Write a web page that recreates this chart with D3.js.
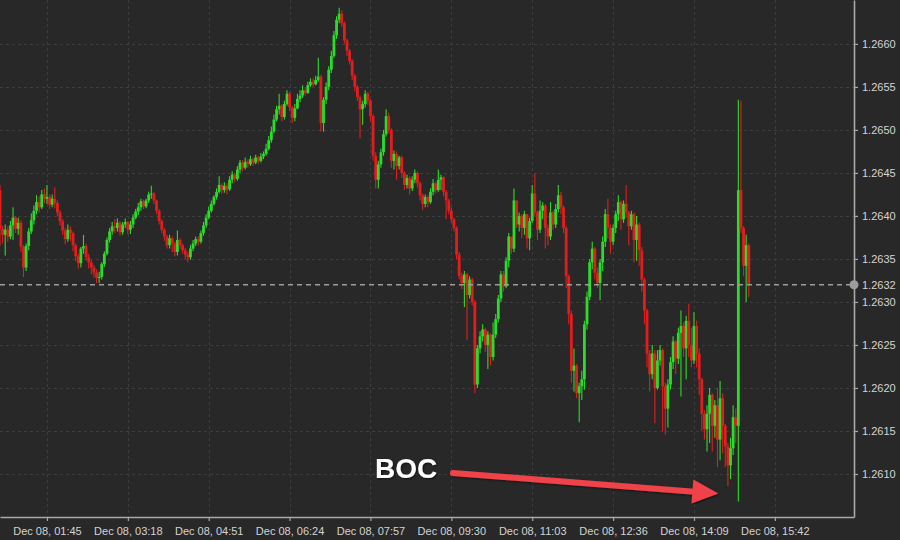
<!DOCTYPE html>
<html>
<head>
<meta charset="utf-8">
<script src="https://cdn.jsdelivr.net/npm/d3@7"></script>
<style>
  html, body { margin: 0; padding: 0; background: #282828; }
  svg { display: block; }
</style>
</head>
<body>
<svg id="chart" width="900" height="540"></svg>
<script>
// USD/CAD 3-minute candles, Dec 08 (UTC)
const firstOpen = 1.26430;
const startTime = Date.UTC(2017, 11, 8, 0, 51);
const stepMinutes = 3;

const close = [
  1.26385,1.26378,1.26384,1.26376,1.26389,1.26398,1.26385,1.26392,1.26364,1.26340,
  1.26365,1.26382,1.26395,1.26406,1.26416,1.26410,1.26425,1.26420,1.26422,1.26413,
  1.26420,1.26415,1.26404,1.26394,1.26383,1.26373,1.26384,1.26380,1.26366,1.26353,
  1.26345,1.26362,1.26365,1.26352,1.26346,1.26340,1.26334,1.26328,1.26329,1.26344,
  1.26356,1.26372,1.26382,1.26388,1.26386,1.26392,1.26381,1.26390,1.26393,1.26384,
  1.26390,1.26398,1.26405,1.26410,1.26417,1.26411,1.26418,1.26425,1.26426,1.26418,
  1.26406,1.26394,1.26384,1.26376,1.26366,1.26374,1.26368,1.26358,1.26372,1.26366,
  1.26360,1.26355,1.26352,1.26362,1.26368,1.26373,1.26370,1.26380,1.26389,1.26398,
  1.26406,1.26414,1.26422,1.26428,1.26436,1.26430,1.26435,1.26431,1.26442,1.26448,
  1.26443,1.26454,1.26462,1.26456,1.26463,1.26460,1.26466,1.26462,1.26468,1.26464,
  1.26469,1.26472,1.26478,1.26488,1.26498,1.26512,1.26524,1.26528,1.26515,1.26530,
  1.26542,1.26526,1.26514,1.26525,1.26536,1.26540,1.26546,1.26543,1.26552,1.26556,
  1.26553,1.26558,1.26562,1.26508,1.26535,1.26550,1.26570,1.26586,1.26610,1.26628,
  1.26635,1.26624,1.26604,1.26592,1.26580,1.26563,1.26550,1.26538,1.26524,1.26530,
  1.26542,1.26534,1.26516,1.26470,1.26442,1.26460,1.26474,1.26495,1.26516,1.26500,
  1.26464,1.26472,1.26458,1.26468,1.26450,1.26436,1.26444,1.26432,1.26442,1.26450,
  1.26438,1.26424,1.26414,1.26422,1.26416,1.26428,1.26438,1.26430,1.26442,1.26445,
  1.26428,1.26418,1.26406,1.26396,1.26386,1.26355,1.26330,1.26322,1.26332,1.26308,
  1.26326,1.26300,1.26204,1.26246,1.26260,1.26268,1.26250,1.26262,1.26236,1.26262,
  1.26280,1.26304,1.26332,1.26318,1.26348,1.26376,1.26362,1.26418,1.26390,1.26400,
  1.26386,1.26402,1.26374,1.26394,1.26426,1.26404,1.26384,1.26406,1.26412,1.26386,
  1.26376,1.26404,1.26390,1.26408,1.26424,1.26410,1.26386,1.26330,1.26286,1.26220,
  1.26226,1.26194,1.26202,1.26210,1.26274,1.26306,1.26346,1.26362,1.26334,1.26322,
  1.26346,1.26370,1.26402,1.26386,1.26370,1.26386,1.26402,1.26416,1.26396,1.26414,
  1.26404,1.26388,1.26402,1.26372,1.26390,1.26360,1.26326,1.26290,1.26240,1.26216,
  1.26240,1.26200,1.26232,1.26244,1.26202,1.26176,1.26204,1.26230,1.26254,1.26234,
  1.26264,1.26272,1.26246,1.26278,1.26250,1.26232,1.26272,1.26240,1.26210,1.26170,
  1.26152,1.26170,1.26192,1.26156,1.26180,1.26140,1.26188,1.26156,1.26132,1.26110,
  1.26130,1.26166,1.26156,1.26430,1.26386,1.26342,1.26366,1.26320
];

const high = [
  1.26436,1.26389,1.26390,1.26388,1.26394,1.26410,1.26400,1.26398,1.26395,1.26366,
  1.26368,1.26386,1.26403,1.26412,1.26424,1.26423,1.26430,1.26432,1.26436,1.26425,
  1.26425,1.26433,1.26418,1.26407,1.26396,1.26386,1.26390,1.26388,1.26382,1.26368,
  1.26356,1.26364,1.26378,1.26368,1.26356,1.26349,1.26343,1.26338,1.26335,1.26346,
  1.26359,1.26375,1.26386,1.26393,1.26396,1.26397,1.26394,1.26393,1.26397,1.26394,
  1.26394,1.26402,1.26408,1.26415,1.26420,1.26419,1.26420,1.26428,1.26435,1.26428,
  1.26419,1.26408,1.26396,1.26386,1.26378,1.26378,1.26376,1.26370,1.26383,1.26374,
  1.26368,1.26363,1.26358,1.26366,1.26372,1.26376,1.26376,1.26383,1.26393,1.26402,
  1.26411,1.26418,1.26424,1.26432,1.26446,1.26438,1.26439,1.26438,1.26446,1.26452,
  1.26450,1.26458,1.26465,1.26465,1.26468,1.26466,1.26470,1.26468,1.26471,1.26470,
  1.26473,1.26475,1.26484,1.26493,1.26504,1.26518,1.26528,1.26542,1.26530,1.26534,
  1.26546,1.26544,1.26528,1.26530,1.26542,1.26546,1.26552,1.26550,1.26556,1.26560,
  1.26560,1.26563,1.26584,1.26564,1.26538,1.26555,1.26574,1.26592,1.26615,1.26632,
  1.26642,1.26639,1.26626,1.26606,1.26594,1.26582,1.26565,1.26552,1.26540,1.26534,
  1.26546,1.26544,1.26536,1.26518,1.26474,1.26464,1.26478,1.26500,1.26524,1.26520,
  1.26502,1.26476,1.26475,1.26470,1.26470,1.26452,1.26448,1.26446,1.26446,1.26454,
  1.26452,1.26440,1.26426,1.26425,1.26424,1.26432,1.26443,1.26440,1.26454,1.26448,
  1.26446,1.26430,1.26420,1.26410,1.26398,1.26388,1.26358,1.26334,1.26336,1.26334,
  1.26330,1.26328,1.26302,1.26250,1.26266,1.26274,1.26270,1.26266,1.26264,1.26276,
  1.26286,1.26308,1.26336,1.26336,1.26352,1.26380,1.26374,1.26432,1.26416,1.26404,
  1.26402,1.26406,1.26402,1.26398,1.26436,1.26450,1.26406,1.26418,1.26416,1.26414,
  1.26390,1.26416,1.26406,1.26414,1.26436,1.26428,1.26412,1.26388,1.26332,1.26290,
  1.26246,1.26228,1.26206,1.26220,1.26278,1.26312,1.26350,1.26370,1.26364,1.26340,
  1.26350,1.26376,1.26408,1.26420,1.26390,1.26390,1.26406,1.26424,1.26418,1.26418,
  1.26436,1.26406,1.26406,1.26404,1.26400,1.26392,1.26364,1.26328,1.26292,1.26244,
  1.26250,1.26244,1.26244,1.26250,1.26246,1.26206,1.26210,1.26236,1.26260,1.26256,
  1.26270,1.26290,1.26276,1.26284,1.26298,1.26270,1.26288,1.26278,1.26246,1.26212,
  1.26174,1.26180,1.26200,1.26194,1.26186,1.26200,1.26208,1.26194,1.26158,1.26136,
  1.26142,1.26180,1.26176,1.26535,1.26534,1.26388,1.26378,1.26368
];

const low = [
  1.26365,1.26368,1.26354,1.26370,1.26373,1.26372,1.26380,1.26378,1.26358,1.26329,
  1.26336,1.26360,1.26379,1.26390,1.26402,1.26404,1.26408,1.26415,1.26414,1.26408,
  1.26410,1.26409,1.26400,1.26389,1.26378,1.26367,1.26370,1.26371,1.26359,1.26347,
  1.26339,1.26340,1.26356,1.26348,1.26339,1.26332,1.26328,1.26322,1.26322,1.26326,
  1.26341,1.26354,1.26369,1.26378,1.26380,1.26382,1.26377,1.26378,1.26386,1.26379,
  1.26379,1.26386,1.26396,1.26401,1.26406,1.26408,1.26409,1.26415,1.26420,1.26414,
  1.26402,1.26390,1.26380,1.26371,1.26362,1.26362,1.26358,1.26353,1.26354,1.26362,
  1.26356,1.26349,1.26346,1.26349,1.26359,1.26365,1.26366,1.26368,1.26377,1.26386,
  1.26396,1.26404,1.26412,1.26419,1.26426,1.26426,1.26427,1.26425,1.26429,1.26438,
  1.26439,1.26441,1.26450,1.26452,1.26454,1.26456,1.26458,1.26458,1.26460,1.26460,
  1.26462,1.26466,1.26470,1.26476,1.26485,1.26496,1.26510,1.26518,1.26510,1.26512,
  1.26528,1.26522,1.26508,1.26510,1.26524,1.26532,1.26537,1.26540,1.26542,1.26550,
  1.26550,1.26552,1.26556,1.26498,1.26498,1.26530,1.26546,1.26566,1.26584,1.26606,
  1.26624,1.26620,1.26600,1.26586,1.26576,1.26558,1.26545,1.26534,1.26490,1.26506,
  1.26526,1.26529,1.26510,1.26464,1.26432,1.26432,1.26456,1.26470,1.26492,1.26496,
  1.26456,1.26454,1.26442,1.26454,1.26444,1.26430,1.26432,1.26425,1.26429,1.26438,
  1.26433,1.26418,1.26407,1.26410,1.26410,1.26414,1.26424,1.26426,1.26428,1.26430,
  1.26423,1.26396,1.26402,1.26392,1.26382,1.26350,1.26326,1.26315,1.26294,1.26256,
  1.26304,1.26296,1.26194,1.26200,1.26240,1.26254,1.26242,1.26222,1.26226,1.26232,
  1.26258,1.26276,1.26300,1.26312,1.26316,1.26340,1.26356,1.26358,1.26386,1.26382,
  1.26374,1.26378,1.26362,1.26360,1.26392,1.26400,1.26372,1.26380,1.26396,1.26362,
  1.26366,1.26372,1.26384,1.26386,1.26404,1.26402,1.26380,1.26316,1.26274,1.26206,
  1.26196,1.26188,1.26160,1.26186,1.26198,1.26268,1.26302,1.26338,1.26326,1.26316,
  1.26302,1.26336,1.26364,1.26374,1.26356,1.26366,1.26380,1.26394,1.26384,1.26392,
  1.26398,1.26366,1.26384,1.26346,1.26348,1.26342,1.26312,1.26274,1.26224,1.26196,
  1.26210,1.26159,1.26198,1.26226,1.26150,1.26146,1.26154,1.26198,1.26222,1.26216,
  1.26228,1.26190,1.26236,1.26210,1.26236,1.26224,1.26228,1.26224,1.26192,1.26150,
  1.26140,1.26126,1.26136,1.26126,1.26142,1.26108,1.26116,1.26124,1.26108,1.26086,
  1.26094,1.26122,1.26136,1.26068,1.26380,1.26330,1.26300,1.26306
];

// Axis ticks
const priceTicks = [1.2610, 1.2615, 1.2620, 1.2625, 1.2630, 1.2635, 1.2640, 1.2645, 1.2650, 1.2655, 1.2660];
const timeTicks = ["01:45", "03:18", "04:51", "06:24", "07:57", "09:30", "11:03", "12:36", "14:09", "15:42"];
const lastPrice = 1.2632;
const eventTime = "15:00";
const eventLabel = "BOC";

const atUTC = hm => { const [h, m] = hm.split(":").map(Number); return new Date(Date.UTC(2017, 11, 8, h, m)); };

const candles = close.map((c, i) => ({
  t: new Date(startTime + i * stepMinutes * 60000),
  o: i === 0 ? firstOpen : close[i - 1],
  h: high[i], l: low[i], c
}));

const W = 900, H = 540;
const plot = { left: 0, right: 854, top: 0, bottom: 517 };

const svg = d3.select("#chart");

const x = d3.scaleUtc()
  .domain([atUTC("00:51"), atUTC("17:13")])
  .range([plot.left, plot.right]);

const y = d3.scaleLinear()
  .domain([1.2605, 1.26651])
  .range([plot.bottom, plot.top]);

const green = "#2bdc2b", red = "#e31d1d";
const gridColor = "#3d3d3d";
const axisColor = "#a9a9a9";
const textColor = "#d4d4d4";

svg.append("rect").attr("width", W).attr("height", H).attr("fill", "#282828");

svg.append("defs").append("clipPath").attr("id", "plotClip")
  .append("rect").attr("x", plot.left).attr("y", plot.top)
  .attr("width", plot.right - plot.left).attr("height", plot.bottom - plot.top);

// grid
const grid = svg.append("g");
grid.selectAll("line.h").data(priceTicks).join("line")
  .attr("x1", plot.left).attr("x2", plot.right)
  .attr("y1", d => Math.round(y(d)) + 0.5).attr("y2", d => Math.round(y(d)) + 0.5)
  .attr("stroke", gridColor).attr("stroke-dasharray", "3,3");
grid.selectAll("line.v").data(timeTicks).join("line")
  .attr("x1", d => Math.round(x(atUTC(d))) + 0.5).attr("x2", d => Math.round(x(atUTC(d))) + 0.5)
  .attr("y1", plot.top).attr("y2", plot.bottom)
  .attr("stroke", gridColor).attr("stroke-dasharray", "3,3");

// candles
const bodyW = 2.8;
const cg = svg.append("g").attr("clip-path", "url(#plotClip)");
const cs = cg.selectAll("g.candle").data(candles).join("g");
cs.append("line")
  .attr("x1", d => x(d.t)).attr("x2", d => x(d.t))
  .attr("y1", d => y(d.h)).attr("y2", d => y(d.l))
  .attr("stroke", d => d.c >= d.o ? green : red)
  .attr("stroke-width", 1.1);
cs.append("rect")
  .attr("x", d => x(d.t) - bodyW / 2)
  .attr("width", bodyW)
  .attr("y", d => y(Math.max(d.o, d.c)))
  .attr("height", d => Math.max(1, Math.abs(y(d.o) - y(d.c))))
  .attr("fill", d => d.c >= d.o ? green : red);

// last price line
svg.append("line")
  .attr("x1", plot.left).attr("x2", plot.right)
  .attr("y1", y(lastPrice)).attr("y2", y(lastPrice))
  .attr("stroke", "#9c9c9c").attr("stroke-width", 1.3).attr("stroke-dasharray", "5,4");

// axes
const yAxis = d3.axisRight(y)
  .tickValues(priceTicks.concat([lastPrice]))
  .tickFormat(d3.format(".4f"))
  .tickSizeInner(4).tickSizeOuter(0).tickPadding(4);
const gy = svg.append("g").attr("transform", `translate(${plot.right},0)`).call(yAxis);

const xAxis = d3.axisBottom(x)
  .tickValues(timeTicks.map(atUTC))
  .tickFormat(d3.utcFormat("%b %d, %H:%M"))
  .tickSizeInner(4).tickSizeOuter(0).tickPadding(6);
const gx = svg.append("g").attr("transform", `translate(0,${plot.bottom})`).call(xAxis);

[gx, gy].forEach(g => {
  g.select(".domain").attr("stroke", axisColor).attr("stroke-width", 1.6);
  g.selectAll(".tick line").attr("stroke", axisColor).attr("stroke-width", 1.2);
  g.selectAll(".tick text").attr("fill", textColor)
    .style("font-family", "'Liberation Sans', Arial, sans-serif").style("font-size", "11px");
});

svg.append("circle")
  .attr("cx", plot.right).attr("cy", y(lastPrice)).attr("r", 4.5)
  .attr("fill", "#9c9c9c");

// event annotation
const ev = candles.find(d => +d.t === +atUTC(eventTime));
const tipX = x(ev.t) - 20, tipY = y(ev.l) - 8;
const arrowColor = "#ef434a";
const defs = svg.select("defs");
const shadow = defs.append("filter").attr("id", "shadow").attr("x", "-20%").attr("y", "-20%").attr("width", "140%").attr("height", "140%");
shadow.append("feDropShadow").attr("dx", 1).attr("dy", 1).attr("stdDeviation", 1.2).attr("flood-color", "#000").attr("flood-opacity", 0.6);

const ann = svg.append("g").attr("filter", "url(#shadow)");
const startX = 453, startY = 473;
const ang = Math.atan2(tipY - startY, tipX - startX);
const headLen = 26, headHalf = 12;
const baseX = tipX - headLen * Math.cos(ang), baseY = tipY - headLen * Math.sin(ang);
ann.append("line")
  .attr("x1", startX).attr("y1", startY).attr("x2", baseX + 2 * Math.cos(ang)).attr("y2", baseY + 2 * Math.sin(ang))
  .attr("stroke", arrowColor).attr("stroke-width", 6).attr("stroke-linecap", "round");
ann.append("path")
  .attr("d", d3.line()([
    [tipX, tipY],
    [baseX - headHalf * Math.sin(ang), baseY + headHalf * Math.cos(ang)],
    [baseX + headHalf * Math.sin(ang), baseY - headHalf * Math.cos(ang)]
  ]) + "Z")
  .attr("fill", arrowColor);
ann.append("text")
  .attr("x", 375).attr("y", 478)
  .attr("fill", "#ffffff")
  .style("font-family", "'Liberation Sans', Arial, sans-serif")
  .style("font-weight", "bold").style("font-size", "28px")
  .text(eventLabel);
</script>
</body>
</html>
